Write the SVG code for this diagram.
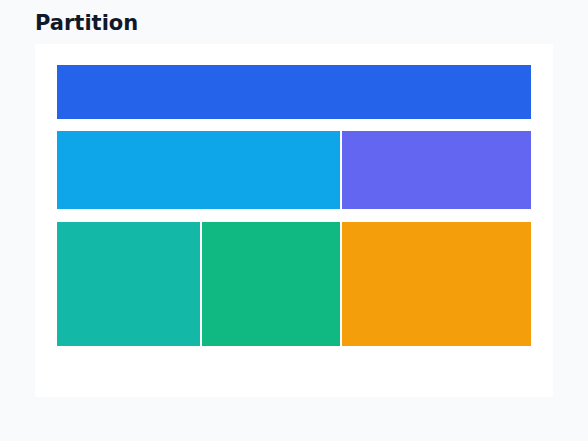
<svg xmlns="http://www.w3.org/2000/svg" width="588" height="441" viewBox="0 0 588 441">
<style>
.title{font-family:"DejaVu Sans",sans-serif;font-weight:bold;font-size:21px;fill:#111827}
</style>
<rect x="0" y="0" width="588" height="441" fill="#f8fafc"/>
<text class="title" x="35" y="30">Partition</text>
<rect x="35" y="44" width="518" height="353" fill="#ffffff"/>
<g id="root"><rect x="57" y="65" width="474" height="54" fill="#2563eb"/></g>
<g id="a"><rect x="57" y="131" width="283" height="78" fill="#0ea5e9"/></g>
<g id="b"><rect x="342" y="131" width="189" height="78" fill="#6366f1"/></g>
<g id="a1"><rect x="57" y="222" width="143" height="124" fill="#14b8a6"/></g>
<g id="a2"><rect x="202" y="222" width="138" height="124" fill="#10b981"/></g>
<g id="b1"><rect x="342" y="222" width="189" height="124" fill="#f59e0b"/></g>
<g id="connectors"></g>
</svg>
